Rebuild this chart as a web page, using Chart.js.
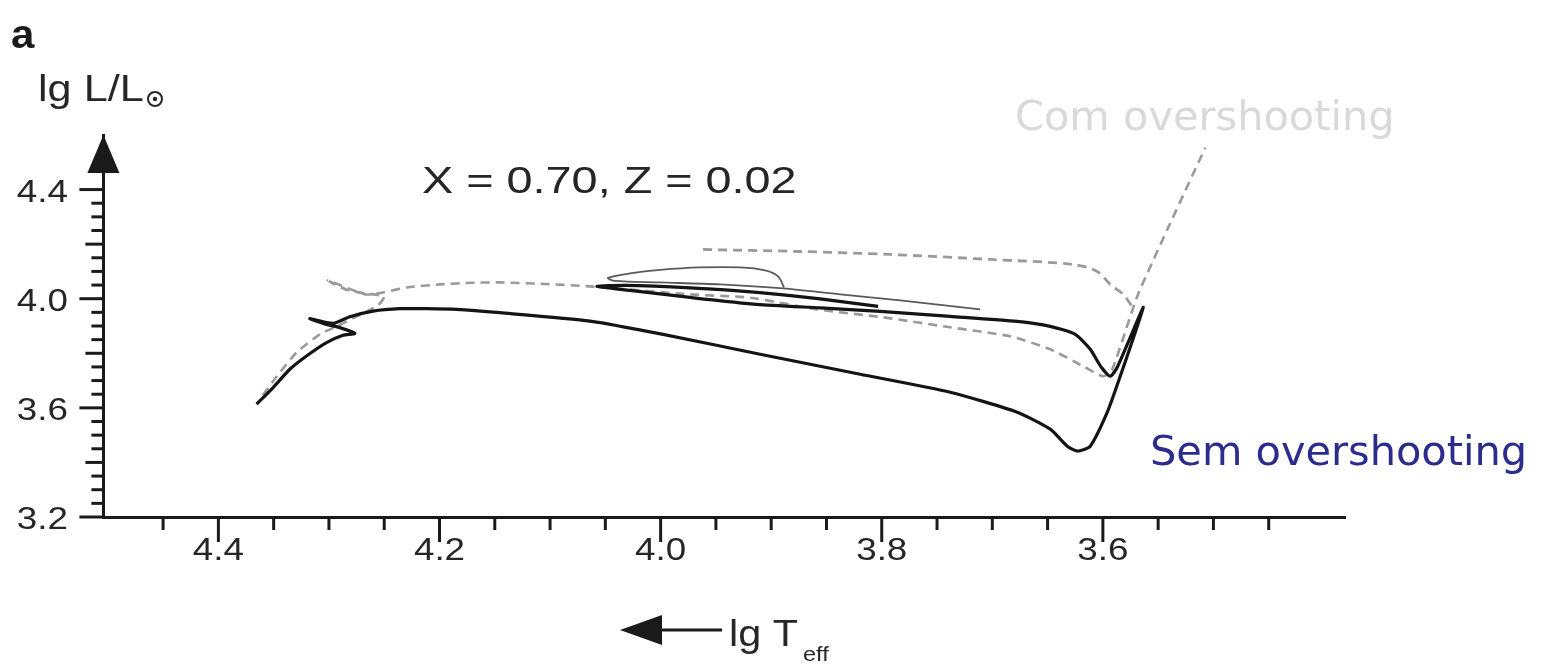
<!DOCTYPE html>
<html>
<head>
<meta charset="utf-8">
<script src="https://cdn.jsdelivr.net/npm/chart.js@4.4.1/dist/chart.umd.min.js"></script>
<style>
  html, body { margin: 0; padding: 0; background: #fff; }
  #wrap { width: 1549px; height: 664px; position: relative; }
</style>
</head>
<body>
<div id="wrap"><canvas id="hrd"></canvas></div>
<script>
// track without overshooting (solid black): lg Teff, lg L/Lsun
const semTeff = [4.3655, 4.3505, 4.3354, 4.3203, 4.3022, 4.2872, 4.2766, 4.2901, 4.3022, 4.3173,
  4.2962, 4.2811, 4.2600, 4.2358, 4.2117, 4.1845, 4.1453, 4.0639, 3.9978, 3.9100,
  3.8195, 3.7381, 3.6775, 3.6476, 3.6322, 3.6232, 3.6114, 3.5960, 3.5843, 3.5634,
  3.5870, 3.5933, 3.6014, 3.6114, 3.6250, 3.6476, 3.6775, 3.7381, 3.8014, 3.8557,
  3.9128, 3.9734, 4.0277, 4.0576, 4.0322, 3.9734, 3.9128, 3.8557, 3.8033];
const semLum = [3.6133, 3.6744, 3.7414, 3.7900, 3.8391, 3.8658, 3.8731, 3.8940, 3.9060, 3.9269,
  3.9097, 3.9342, 3.9547, 3.9635, 3.9635, 3.9609, 3.9488, 3.9181, 3.8694, 3.7963,
  3.7231, 3.6572, 3.5840, 3.5218, 3.4596, 3.4413, 3.4596, 3.5840, 3.7158, 3.9682,
  3.7487, 3.7158, 3.7487, 3.8146, 3.8694, 3.8987, 3.9170, 3.9353, 3.9536, 3.9664,
  3.9792, 4.0048, 4.0304, 4.0451, 4.0487, 4.0396, 4.0231, 3.9993, 3.9719];

// track with overshooting (dashed grey)
const comTeff = [4.3598, 4.3471, 4.3291, 4.3082, 4.2929, 4.2748, 4.2557, 4.2503, 4.2675, 4.2847,
  4.3010, 4.2666, 4.2512, 4.2295, 4.1996, 4.1698, 4.1453, 4.1046, 4.0639, 3.9734,
  3.9191, 3.8585, 3.7987, 3.7381, 3.6838, 3.6476, 3.6177, 3.5996, 3.5915, 3.5689,
  3.5417, 3.5073];
const comLum = [3.6463, 3.7158, 3.8036, 3.8694, 3.8987, 3.9353, 3.9756, 4.0085, 4.0195, 4.0341,
  4.0670, 4.0158, 4.0231, 4.0414, 4.0524, 4.0586, 4.0597, 4.0542, 4.0451, 4.0158,
  4.0037, 3.9609, 3.9317, 3.8951, 3.8621, 3.8146, 3.7524, 3.7158, 3.7414, 4.0085,
  4.2536, 4.5537];
const comLoopTeff = [3.5743, 3.5815, 3.5933, 3.6051, 3.6268, 3.7019, 3.7924, 3.8738, 3.9643];
const comLoopLum = [3.9756, 4.0158, 4.0524, 4.1000, 4.1256, 4.1439, 4.1622, 4.1731, 4.1805];

// thin solid loop
const thinTeff = [3.7110, 3.7833, 3.8376, 3.8892, 3.9462, 4.0005, 4.0413, 4.0476, 4.0277, 4.0005,
  3.9643, 3.9282, 3.9055, 3.8938, 3.8883];
const thinLum = [3.9609, 3.9939, 4.0158, 4.0378, 4.0524, 4.0597, 4.0652, 4.0762, 4.0926, 4.1055,
  4.1146, 4.1146, 4.1036, 4.0817, 4.0414];

const xTickLabels = ["4.4", "4.2", "4.0", "3.8", "3.6"];
const yTickLabels = ["3.2", "3.6", "4.0", "4.4"];

const pts = (xs, ys) => xs.map((v, i) => ({ x: v, y: ys[i] }));

function wideText(ctx, text, x, y, sx, align) {
  ctx.save();
  ctx.translate(x, y);
  ctx.scale(sx, 1);
  ctx.textAlign = align;
  ctx.fillText(text, 0, 0);
  ctx.restore();
}

const decor = {
  id: "decor",
  afterDraw(chart) {
    const { ctx, chartArea: a, scales: { x, y } } = chart;
    ctx.save();
    ctx.strokeStyle = "#1a1a1a";
    ctx.fillStyle = "#1a1a1a";
    ctx.lineWidth = 3;

    // x ticks every 0.05, long ones at labelled values
    for (let k = 0; k <= 20; k++) {
      const v = 3.45 + k * 0.05;
      const px = x.getPixelForValue(v);
      const major = xTickLabels.some(t => Math.abs(parseFloat(t) - v) < 1e-6);
      ctx.beginPath();
      ctx.moveTo(px, a.bottom);
      ctx.lineTo(px, a.bottom + (major ? 25 : 13));
      ctx.stroke();
    }
    // y ticks every 0.05
    for (let k = 0; k <= 24; k++) {
      const v = 3.2 + k * 0.05;
      const py = y.getPixelForValue(v);
      const labelled = yTickLabels.some(t => Math.abs(parseFloat(t) - v) < 1e-6);
      const medium = Math.abs(v * 5 - Math.round(v * 5)) < 1e-6;
      const len = labelled ? 24 : (medium ? 18 : 12);
      ctx.beginPath();
      ctx.moveTo(a.left, py);
      ctx.lineTo(a.left - len, py);
      ctx.stroke();
    }

    // arrow head on the y axis
    ctx.beginPath();
    ctx.moveTo(a.left, a.top);
    ctx.lineTo(a.left - 16, a.top + 38);
    ctx.lineTo(a.left + 16, a.top + 38);
    ctx.closePath();
    ctx.fill();

    // tick labels
    ctx.font = "32px 'Liberation Sans', Arial, sans-serif";
    ctx.fillStyle = "#262626";
    ctx.textBaseline = "alphabetic";
    xTickLabels.forEach(t => {
      wideText(ctx, t, x.getPixelForValue(parseFloat(t)), 560, 1.15, "center");
    });
    yTickLabels.forEach(t => {
      wideText(ctx, t, 68, y.getPixelForValue(parseFloat(t)) + 12, 1.15, "right");
    });

    // panel letter
    ctx.fillStyle = "#1a1a1a";
    ctx.font = "bold 40px 'Liberation Sans', Arial, sans-serif";
    wideText(ctx, "a", 11, 48, 1.05, "left");

    // y title
    ctx.fillStyle = "#262626";
    ctx.font = "36px 'Liberation Sans', Arial, sans-serif";
    wideText(ctx, "lg L/L", 38, 101, 1.2, "left");
    ctx.strokeStyle = "#262626";
    ctx.lineWidth = 2;
    ctx.beginPath();
    ctx.arc(155, 99, 7, 0, Math.PI * 2);
    ctx.stroke();
    ctx.beginPath();
    ctx.arc(155, 99, 2.2, 0, Math.PI * 2);
    ctx.fill();

    // x title with arrow
    ctx.strokeStyle = "#1a1a1a";
    ctx.fillStyle = "#1a1a1a";
    ctx.lineWidth = 3;
    ctx.beginPath();
    ctx.moveTo(655, 630);
    ctx.lineTo(722, 630);
    ctx.stroke();
    ctx.beginPath();
    ctx.moveTo(620, 630);
    ctx.lineTo(662, 615);
    ctx.lineTo(662, 645);
    ctx.closePath();
    ctx.fill();
    ctx.fillStyle = "#262626";
    ctx.font = "36px 'Liberation Sans', Arial, sans-serif";
    wideText(ctx, "lg T", 729, 646, 1.15, "left");
    ctx.font = "21px 'Liberation Sans', Arial, sans-serif";
    wideText(ctx, "eff", 803, 661, 1.12, "left");

    // annotation
    ctx.font = "36px 'Liberation Sans', Arial, sans-serif";
    wideText(ctx, "X = 0.70, Z = 0.02", 422, 193, 1.3, "left");

    ctx.font = "41.5px 'DejaVu Sans', sans-serif";
    ctx.fillStyle = "#d9d9d9";
    ctx.textAlign = "left";
    ctx.fillText("Com overshooting", 1015, 130);
    ctx.fillStyle = "#2c2c8c";
    ctx.fillText("Sem overshooting", 1150, 465);
    ctx.restore();
  }
};

new Chart(document.getElementById("hrd"), {
  type: "scatter",
  data: {
    datasets: [
      {
        label: "Sem overshooting",
        data: pts(semTeff, semLum),
        showLine: true,
        borderColor: "#141414",
        borderWidth: 3.2,
        pointRadius: 0,
        tension: 0.2,
        order: 0
      },
      {
        label: "fino",
        data: pts(thinTeff, thinLum),
        showLine: true,
        borderColor: "#5a5a5a",
        borderWidth: 1.8,
        pointRadius: 0,
        tension: 0.3,
        order: 1
      },
      {
        label: "Com overshooting",
        data: pts(comTeff, comLum),
        showLine: true,
        borderColor: "#9a9a9a",
        borderWidth: 2.6,
        borderDash: [9, 6],
        pointRadius: 0,
        tension: 0.2,
        order: 2
      },
      {
        label: "Com overshooting (laço)",
        data: pts(comLoopTeff, comLoopLum),
        showLine: true,
        borderColor: "#9a9a9a",
        borderWidth: 2.8,
        borderDash: [9, 6],
        pointRadius: 0,
        tension: 0.3,
        order: 2
      }
    ]
  },
  options: {
    responsive: true,
    maintainAspectRatio: false,
    animation: false,
    layout: { padding: { top: 135, right: 204, left: 0, bottom: 0 } },
    plugins: {
      legend: { display: false },
      tooltip: { enabled: false }
    },
    scales: {
      x: {
        type: "linear",
        reverse: true,
        min: 3.381,
        max: 4.504,
        ticks: { display: false },
        grid: { display: false },
        border: { display: true, color: "#1a1a1a", width: 3 },
        afterFit(scale) { scale.height = 147; }
      },
      y: {
        type: "linear",
        min: 3.2,
        max: 4.6,
        ticks: { display: false },
        grid: { display: false },
        border: { display: true, color: "#1a1a1a", width: 3 },
        afterFit(scale) { scale.width = 103.4; }
      }
    }
  },
  plugins: [decor]
});
</script>
</body>
</html>
